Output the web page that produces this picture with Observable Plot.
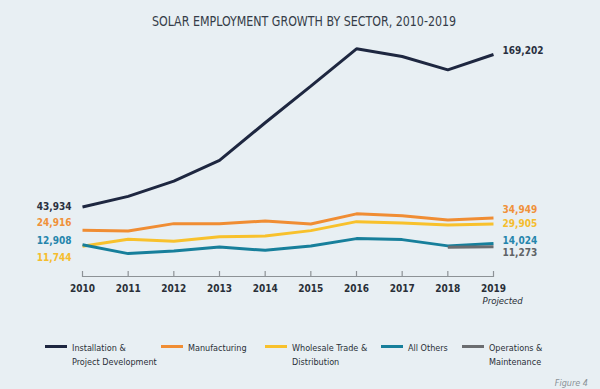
<!DOCTYPE html>
<html>
<head>
<meta charset="utf-8">
<script src="https://cdn.jsdelivr.net/npm/d3@7"></script>
<script src="https://cdn.jsdelivr.net/npm/@observablehq/plot@0.6"></script>
<style>
  html, body { margin: 0; padding: 0; background: #e8eff3; }
  body { width: 600px; height: 389px; position: relative; overflow: hidden;
         font-family: "Liberation Sans Narrow", "DejaVu Sans Condensed", Roboto, sans-serif; }
  #title { height: 36px; position: relative; }
  #title span { position: absolute; left: 304px; top: 13px; transform: translateX(-50%) scaleX(0.88); white-space: nowrap;
           font-size: 14px; line-height: 16px; color: #353c48; }
  .leg { position: absolute; top: 341px; font-size: 9px; line-height: 14px; color: #2a2f38; white-space: nowrap; }
  .sw { position: absolute; top: 345px; height: 3px; width: 22px; }
  #fig { position: absolute; right: 12px; top: 378px; font-size: 9px; font-style: italic; color: #8a9297; }
</style>
</head>
<body>
<div id="title"><span>SOLAR EMPLOYMENT GROWTH BY SECTOR, 2010-2019</span></div>
<div id="chart"></div>
<div id="legend"></div>
<div id="fig">Figure 4</div>
<script>
const years = [2010, 2011, 2012, 2013, 2014, 2015, 2016, 2017, 2018, 2019];
const installation = [43934, 52670, 65220, 82200, 113130, 143150, 173830, 167510, 156600, 169202];
const manufacturing = [24916, 24200, 30270, 30270, 32400, 29940, 38300, 36830, 33220, 34949];
const wholesale = [11744, 17390, 15750, 19600, 20100, 24530, 31910, 30760, 29120, 29905];
const allOthers = [12908, 5660, 7790, 11070, 8370, 11890, 17970, 17150, 12000, 14024];
const omYears = [2018, 2019];
const operations = [10900, 11273];
const seriesNames = ["Installation & Project Development", "Manufacturing", "Wholesale Trade & Distribution", "All Others", "Operations & Maintenance"];
const legendLines = [["Installation &", "Project Development"], ["Manufacturing"], ["Wholesale Trade &", "Distribution"], ["All Others"], ["Operations &", "Maintenance"]];
const tickLabels = ["2010", "2011", "2012", "2013", "2014", "2015", "2016", "2017", "2018", "2019"];
const projectedNote = "Projected";

const colors = ["#1e2740", "#f08d33", "#f8c12c", "#177f9b", "#6b6d70"];
const labelColors = ["#2a3040", "#f0913a", "#f5bd2e", "#2585ac", "#5f6366"];

const seriesVals = [installation, manufacturing, wholesale, allOthers, operations];
const seriesYears = [years, years, years, years, omYears];
const rows = [];
seriesVals.forEach((vals, s) => vals.forEach((v, i) => rows.push({series: seriesNames[s], s, year: seriesYears[s][i], value: v})));

const firstPts = rows.filter(d => d.year === 2010);
const lastPts = rows.filter(d => d.year === 2019);
// label nudges (pixels), keyed by series index
const leftDy = [0, -7, 12, -4];
const rightDy = [-4, -8, 0, -3, 6];
const fmt = d3.format(",");
const labelFont = 'Liberation Sans Narrow, DejaVu Sans Condensed, Roboto, sans-serif';

const chart = Plot.plot({
  width: 600,
  height: 280,
  marginTop: 17,
  marginBottom: 40,
  marginLeft: 82,
  marginRight: 107,
  style: {background: "transparent", fontFamily: labelFont, overflow: "visible"},
  x: {domain: [2010, 2019], axis: null},
  y: {domain: [0, 170000], insetBottom: 16, axis: null},
  color: {domain: seriesNames, range: colors},
  marks: [
    Plot.frame({anchor: "bottom", stroke: "#8d9296", strokeWidth: 1.2}),
    Plot.ruleX(years, {x: d => d, insetTop: 218, stroke: "#8d9296", strokeWidth: 1.2}),
    Plot.axisX({ticks: years, tickSize: 0, tickPadding: 8, label: null, tickFormat: (d, i) => tickLabels[i],
      fill: "#2a2f38", fontSize: 10, fontWeight: 600}),
    Plot.line(rows.filter(d => d.s !== 0), {x: "year", y: "value", z: "series", stroke: "series", strokeWidth: 3, strokeLinejoin: "miter", strokeLinecap: "butt"}),
    Plot.line(rows.filter(d => d.s === 0), {x: "year", y: "value", z: "series", stroke: "series", strokeWidth: 3, strokeLinejoin: "miter", strokeLinecap: "butt"}),
    Plot.text(firstPts, {x: "year", y: "value", text: d => fmt(d.value), textAnchor: "end", dx: -11,
      fill: d => labelColors[d.s], fontSize: 10, fontWeight: 600}),
    Plot.text(lastPts, {x: "year", y: "value", text: d => fmt(d.value), textAnchor: "start", dx: 9,
      fill: d => labelColors[d.s], fontSize: 10, fontWeight: 600}),
    Plot.text([projectedNote], {x: 2019, frameAnchor: "bottom", dx: -11, dy: 27, textAnchor: "start", text: d => d,
      fontStyle: "italic", fontSize: 9.5, fill: "#2a2f38"})
  ]
});
// apply per-label pixel nudges
const textGroups = chart.querySelectorAll('g[aria-label="text"]');
textGroups[0].querySelectorAll("text").forEach((t, i) => t.setAttribute("transform", (t.getAttribute("transform") || "") + ` translate(0,${leftDy[firstPts[i].s]})`));
textGroups[1].querySelectorAll("text").forEach((t, i) => t.setAttribute("transform", (t.getAttribute("transform") || "") + ` translate(0,${rightDy[lastPts[i].s]})`));
document.getElementById("chart").appendChild(chart);

const swLeft = [45, 161, 265, 381, 462];
const legend = document.getElementById("legend");
legendLines.forEach((lines, i) => {
  const sw = document.createElement("div");
  sw.className = "sw"; sw.style.left = swLeft[i] + "px"; sw.style.background = colors[i];
  legend.appendChild(sw);
  const t = document.createElement("div");
  t.className = "leg"; t.style.left = (swLeft[i] + 27) + "px";
  t.innerHTML = lines.map(l => l.replace("&", "&amp;")).join("<br>");
  legend.appendChild(t);
});
</script>
</body>
</html>
